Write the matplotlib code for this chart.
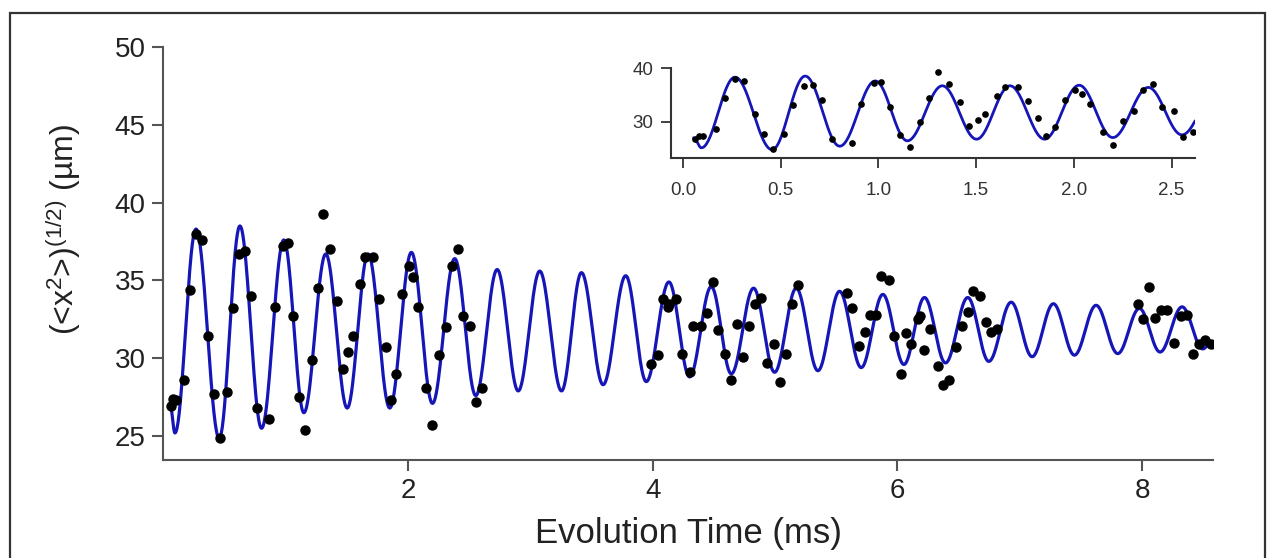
import numpy as np
import matplotlib
matplotlib.use("Agg")
import matplotlib.pyplot as plt
from matplotlib.patches import Rectangle

plt.rcParams['font.family'] = ['Liberation Sans', 'DejaVu Sans']
plt.rcParams['mathtext.fontset'] = 'custom'
plt.rcParams['mathtext.rm'] = 'Liberation Sans'
plt.rcParams['mathtext.it'] = 'Liberation Sans'

# measured points: evolution time (ms) and rms width (um)
t_data = [0.059, 0.080, 0.102, 0.167, 0.216, 0.266, 0.312, 0.366, 0.415, 0.462,
          0.516, 0.565, 0.617, 0.666, 0.712, 0.761, 0.865, 0.911, 0.979, 1.015,
          1.061, 1.110, 1.159, 1.211, 1.260, 1.306, 1.360, 1.415, 1.464, 1.510,
          1.546, 1.605, 1.646, 1.714, 1.763, 1.818, 1.859, 1.905, 1.954, 2.005,
          2.041, 2.082, 2.150, 2.199, 2.253, 2.308, 2.355, 2.405, 2.450, 2.510,
          2.559, 2.608,
          3.988, 4.042, 4.083, 4.124, 4.133, 4.193, 4.242, 4.301, 4.329, 4.397,
          4.446, 4.492, 4.533, 4.587, 4.636, 4.688, 4.737, 4.786, 4.833, 4.887,
          4.933, 4.988, 5.037, 5.086, 5.140, 5.186,
          5.587, 5.631, 5.685, 5.731, 5.772, 5.827, 5.868, 5.930, 5.976, 6.031,
          6.072, 6.112, 6.167, 6.181, 6.221, 6.268, 6.330, 6.371, 6.420, 6.480,
          6.529, 6.575, 6.616, 6.671, 6.725, 6.766, 6.812,
          7.964, 8.005, 8.060, 8.109, 8.155, 8.201, 8.264, 8.318, 8.365, 8.413,
          8.468, 8.517, 8.564]
w_data = [26.9, 27.4, 27.3, 28.6, 34.4, 38.0, 37.6, 31.4, 27.7, 24.9,
          27.8, 33.2, 36.7, 36.9, 34.0, 26.8, 26.1, 33.3, 37.2, 37.4,
          32.7, 27.5, 25.4, 29.9, 34.5, 39.3, 37.0, 33.7, 29.3, 30.4,
          31.4, 34.8, 36.5, 36.5, 33.8, 30.7, 27.3, 29.0, 34.1, 35.9,
          35.2, 33.3, 28.1, 25.7, 30.2, 32.0, 35.9, 37.0, 32.7, 32.1,
          27.2, 28.1,
          29.6, 30.2, 33.8, 33.3, 33.5, 33.8, 30.3, 29.1, 32.1, 32.1,
          32.9, 34.9, 31.8, 30.3, 28.6, 32.2, 30.1, 32.1, 33.5, 33.9,
          29.7, 30.9, 28.5, 30.3, 33.5, 34.7,
          34.2, 33.2, 30.8, 31.7, 32.8, 32.8, 35.3, 35.0, 31.4, 29.0,
          31.6, 30.9, 32.5, 32.7, 30.5, 31.9, 29.5, 28.3, 28.6, 30.7,
          32.1, 33.0, 34.3, 34.0, 32.3, 31.7, 31.9,
          33.5, 32.5, 34.6, 32.6, 33.1, 33.1, 31.0, 32.7, 32.8, 30.3,
          30.9, 31.2, 30.9]

# fit curve turning points (start, alternating troughs/peaks, end)
t_fit = [0.055, 0.094, 0.266, 0.456, 0.625, 0.802, 0.984, 1.148, 1.327, 1.502,
         1.673, 1.850, 2.027, 2.199, 2.381, 2.553, 2.728, 2.900, 3.076, 3.254,
         3.417, 3.594, 3.779, 3.947, 4.132, 4.301, 4.478, 4.642, 4.824, 4.996,
         5.173, 5.350, 5.527, 5.704, 5.881, 6.053, 6.221, 6.393, 6.575, 6.747,
         6.930, 7.101, 7.275, 7.447, 7.624, 7.801, 7.978, 8.147, 8.327, 8.496,
         8.564]
w_fit = [27.0, 25.2, 38.3, 24.85, 38.5, 25.5, 37.6, 26.5, 36.7, 26.8,
         36.7, 26.8, 36.8, 27.1, 36.4, 27.6, 35.7, 27.9, 35.6, 27.9,
         35.5, 28.3, 35.3, 28.5, 34.9, 28.8, 34.6, 29.0, 34.5, 29.1,
         34.5, 29.2, 34.3, 29.4, 34.1, 29.6, 33.9, 29.7, 33.9, 29.8,
         33.6, 30.1, 33.5, 30.2, 33.4, 30.3, 33.2, 30.4, 33.3, 30.6,
         31.0]

main_xticks = [2, 4, 6, 8]
main_yticks = [25, 30, 35, 40, 45, 50]
inset_xticks = [0.0, 0.5, 1.0, 1.5, 2.0, 2.5]
inset_yticks = [30, 40]

blue = '#1616b8'
spine_col = '#555555'


def smooth_curve(tk, wk, n=40):
    # join neighbouring turning points with half-cosine arcs
    xs, ys = [], []
    for i in range(len(tk) - 1):
        s = np.linspace(0, 1, n, endpoint=False)
        xs.append(tk[i] + (tk[i+1] - tk[i]) * s)
        ys.append(wk[i] + (wk[i+1] - wk[i]) * (1 - np.cos(np.pi * s)) / 2)
    xs.append([tk[-1]])
    ys.append([wk[-1]])
    return np.concatenate(xs), np.concatenate(ys)


def style_axes(ax, color):
    ax.spines['top'].set_visible(False)
    ax.spines['right'].set_visible(False)
    for s in ['left', 'bottom']:
        ax.spines[s].set_color(color)
        ax.spines[s].set_linewidth(1.5)


fig = plt.figure(figsize=(12.75, 5.58), dpi=100)

t_curve, w_curve = smooth_curve(t_fit, w_fit)

ax = fig.add_axes([0.1282, 0.1756, 0.8232, 0.7402])
ax.plot(t_curve, w_curve, color=blue, lw=2.3, zorder=2)
ax.plot(t_data, w_data, 'o', color='black', ms=6.5, zorder=3)
ax.set_xlim(0, 8.58)
ax.set_ylim(23.46, 50)
ax.set_xticks(main_xticks)
ax.set_yticks(main_yticks)
style_axes(ax, spine_col)
ax.tick_params(axis='both', direction='out', length=8, width=1.5,
               color=spine_col, labelsize=20, labelcolor='#222222', pad=5)
ax.set_xlabel('Evolution Time (ms)', fontsize=25, color='#222222', labelpad=9)
ax.set_ylabel(r'(<x$^{2}$>)$^{(1/2)}$ (µm)', fontsize=23, color='#222222')
ax.yaxis.set_label_coords(-0.077, 0.557)

# inset with the first 2.6 ms
mask_d = np.array(t_data) <= 2.62
mask_c = t_curve <= 2.62
axi = fig.add_axes([0.5265, 0.7168, 0.4108, 0.1613])
axi.plot(t_curve[mask_c], w_curve[mask_c], color=blue, lw=2.0, zorder=2)
axi.plot(np.array(t_data)[mask_d], np.array(w_data)[mask_d], 'o',
         color='black', ms=3.8, zorder=3)
axi.set_xlim(-0.06, 2.62)
axi.set_ylim(23.3, 40)
axi.set_xticks(inset_xticks)
axi.set_xticklabels(['%.1f' % v for v in inset_xticks])
axi.set_yticks(inset_yticks)
style_axes(axi, '#333333')
axi.tick_params(axis='both', direction='out', length=7, width=1.3,
                color='#333333', labelsize=13.5, labelcolor='#333333', pad=6)
axi.tick_params(axis='x', pad=10)

# outer frame
fig.patches.append(Rectangle((0.0078, -0.05), 0.9844, 1.0267, transform=fig.transFigure,
                             fill=False, edgecolor='#333333', lw=1.6, clip_on=False))

fig.savefig('out.png', dpi=100)
